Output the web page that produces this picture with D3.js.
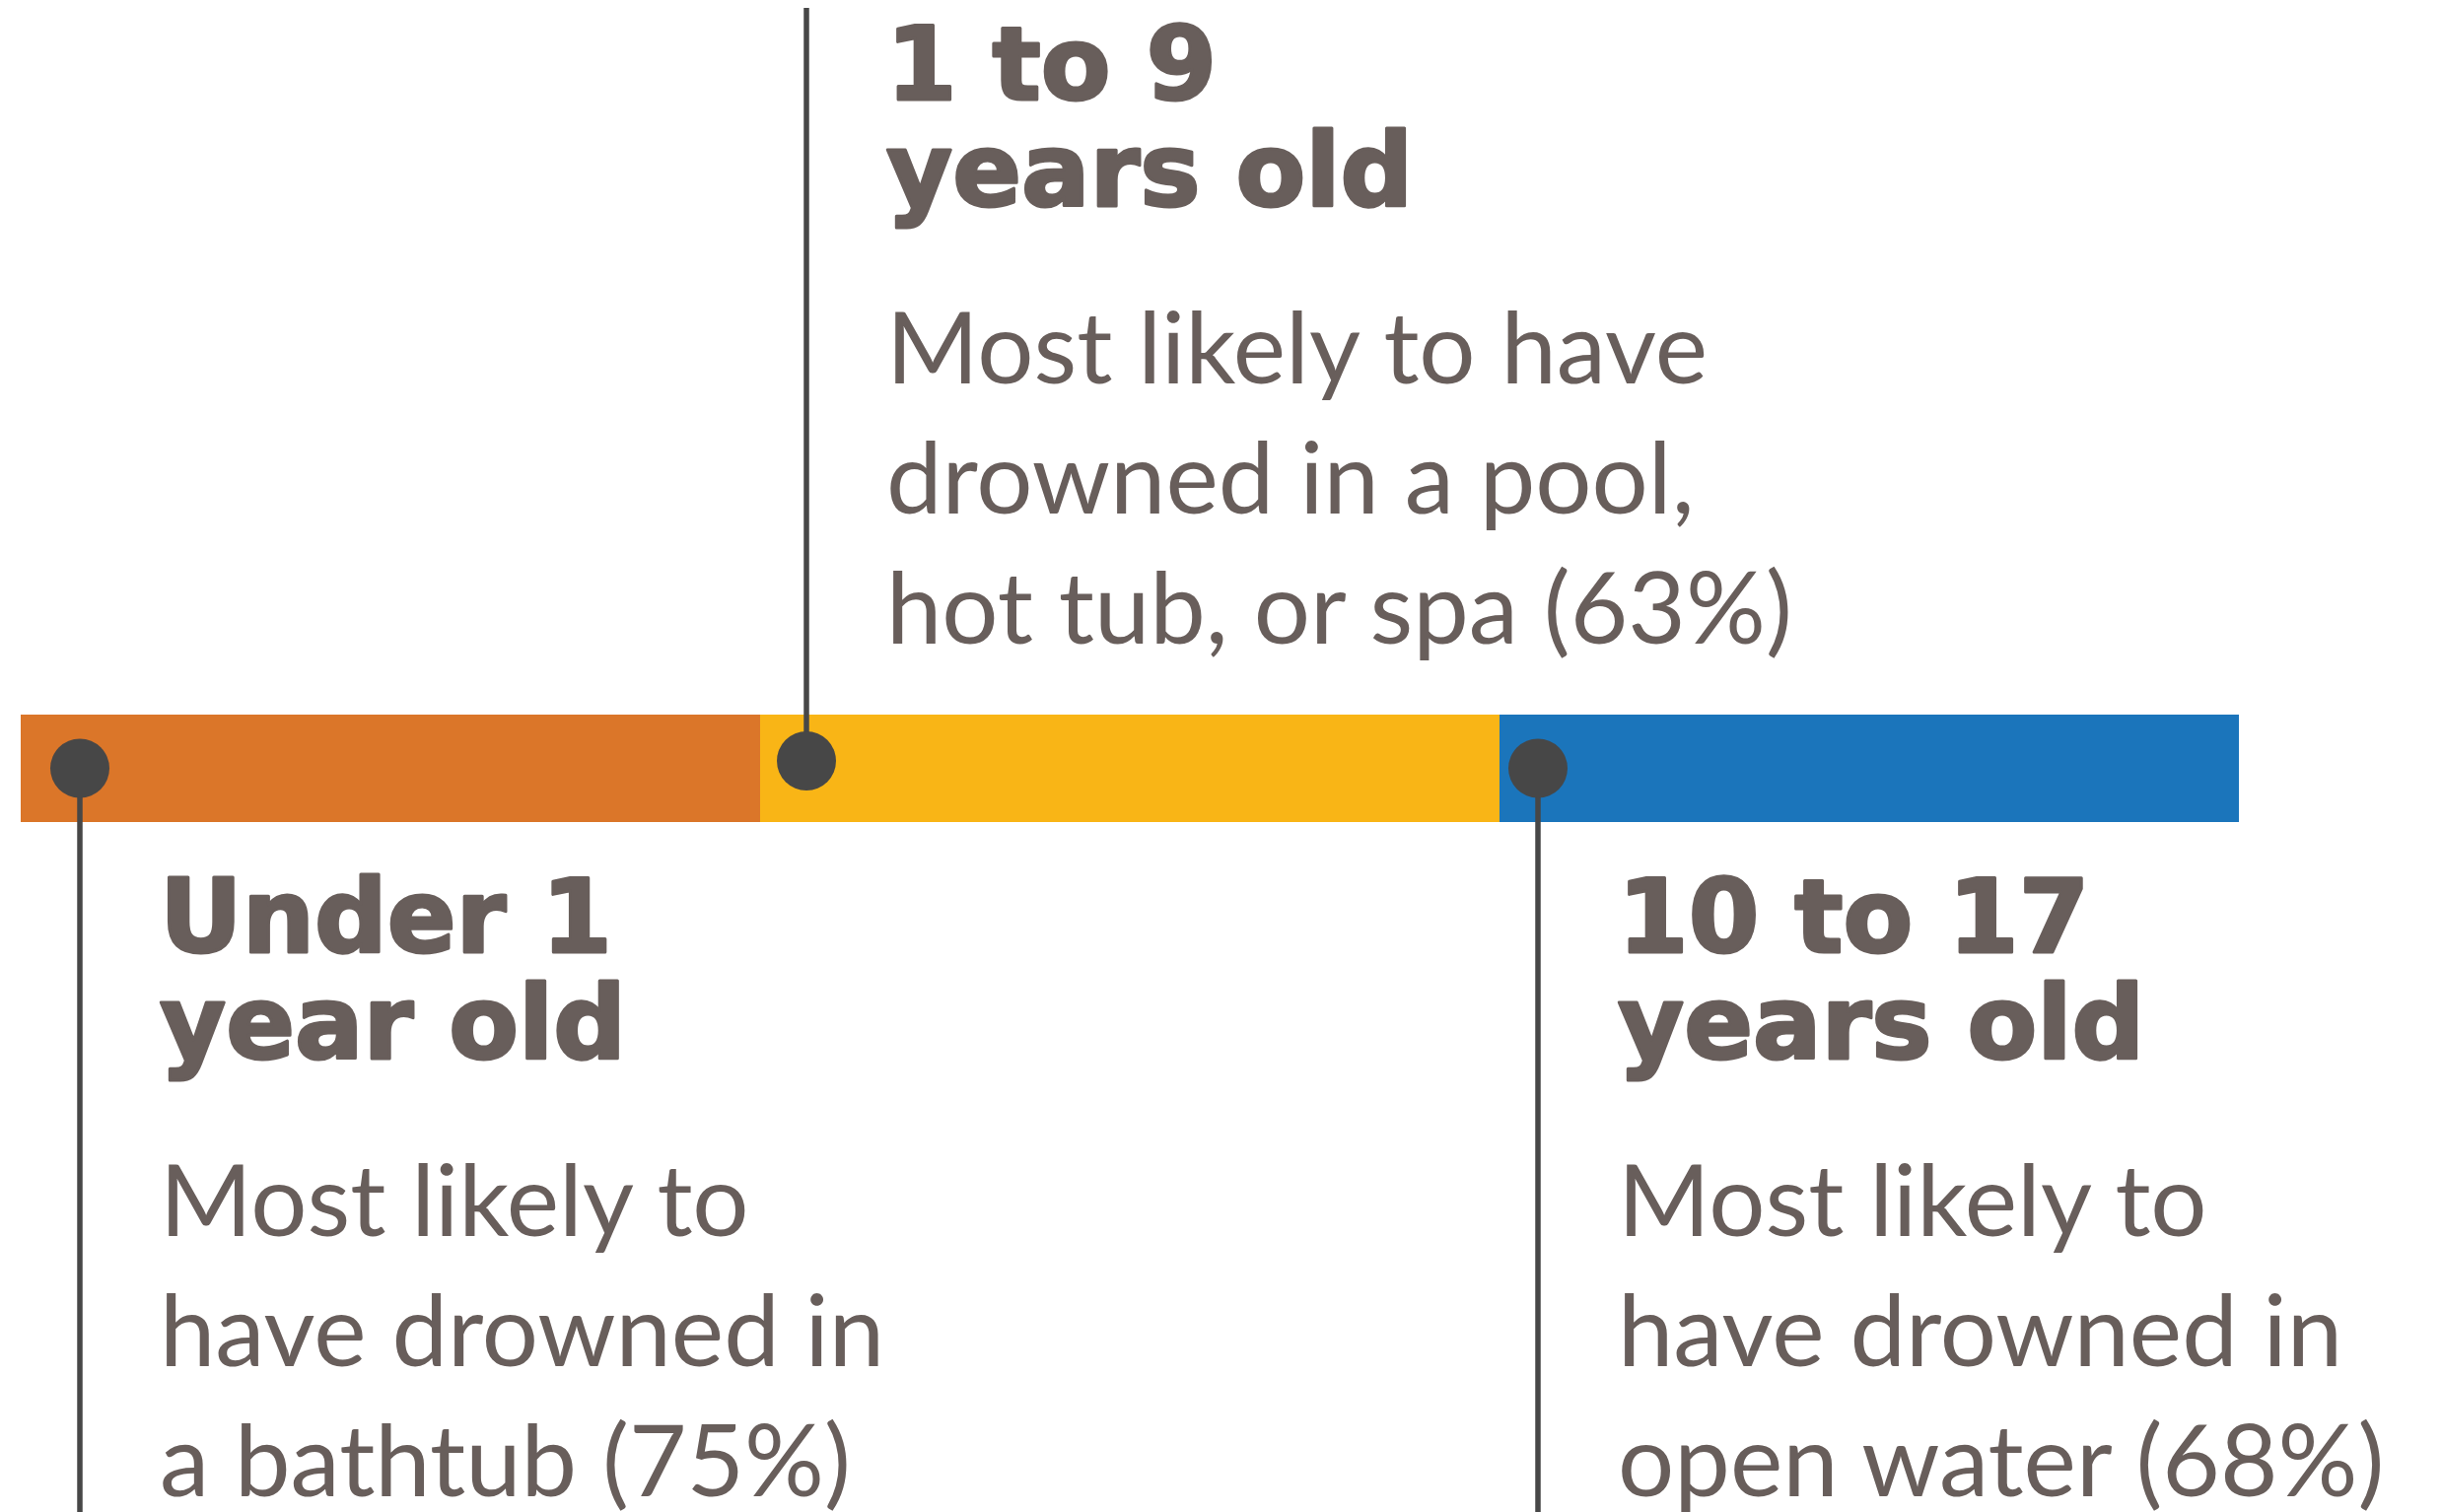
<!DOCTYPE html>
<html lang="en">
<head>
<meta charset="utf-8">
<title>Drowning by age</title>
<script src="https://d3js.org/d3.v7.min.js"></script>
<style>
body{
  margin: 0;
  background: #ffffff;
}
.head{
  font-family: "DejaVu Sans", sans-serif;
  font-weight: bold;
  font-size: 103px;
  fill: #685e5b;
  stroke: #685e5b;
  stroke-width: 3px;
  stroke-linejoin: round;
}
.body{
  font-family: Lato, sans-serif;
  font-weight: 400;
  font-size: 101px;
  fill: #685e5b;
}
</style>
</head>
<body>
<div id="chart"></div>
<script>
// age groups, left to right along the bar
var groups = ["Under 1", "1 to 9", "10 to 17"];
var headings = [["Under 1", "year old"], ["1 to 9", "years old"], ["10 to 17", "years old"]];
var places = [
  ["Most likely to", "have drowned in", "a bathtub"],
  ["Most likely to have", "drowned in a pool,", "hot tub, or spa"],
  ["Most likely to", "have drowned in", "open water"]
];
var shares = [75, 63, 68];
var sides = ["below", "above", "below"];
var colors = ["#db7629", "#f9b516", "#1b75bb"];

var W = 2477, H = 1534;
var svg = d3.select("#chart").append("svg")
  .attr("width", W)
  .attr("height", H);

// bar spans the width, three equal pieces
var x = d3.scaleBand().domain(groups).range([21, 2271]).padding(0);
var barTop = 725, barH = 109;

svg.selectAll(".seg")
  .data(groups)
  .enter()
  .append("rect")
  .attr("class", "seg")
  .attr("x", function(d) { return x(d); })
  .attr("y", barTop)
  .attr("width", x.bandwidth())
  .attr("height", barH)
  .attr("fill", function(d, i) { return colors[i]; });

// where the pin sits inside each piece (layout only)
var pinDx = [60, 47, 39];
function pinX(i) { return x(groups[i]) + pinDx[i]; }
function pinY(i) { return sides[i] == "above" ? barTop + 47 : barTop + barH / 2; }

var pins = svg.selectAll(".pin")
  .data(groups)
  .enter()
  .append("g")
  .attr("class", "pin");

pins.append("line")
  .attr("x1", function(d, i) { return pinX(i); })
  .attr("x2", function(d, i) { return pinX(i); })
  .attr("y1", function(d, i) { return pinY(i); })
  .attr("y2", function(d, i) { return sides[i] == "above" ? 8 : H; })
  .attr("stroke", "#474747")
  .attr("stroke-width", 5.5);

pins.append("circle")
  .attr("cx", function(d, i) { return pinX(i); })
  .attr("cy", function(d, i) { return pinY(i); })
  .attr("r", 30)
  .attr("fill", "#474747");

// text blocks next to each pin
var headTop = {above: 100.7, below: 965.6};
var bodyTop = {above: 388.7, below: 1253.6};

groups.forEach(function(g, i) {
  var tx = pinX(i) + 81;
  var side = sides[i];
  var blk = svg.append("g");

  blk.selectAll(".head")
    .data(headings[i])
    .enter()
    .append("text")
    .attr("class", "head")
    .attr("x", tx)
    .attr("y", function(d, j) { return headTop[side] + j * 108; })
    .text(function(d) { return d; });

  var lines = places[i].slice();
  lines[lines.length - 1] = lines[lines.length - 1] + " (" + shares[i] + "%)";

  blk.selectAll(".body")
    .data(lines)
    .enter()
    .append("text")
    .attr("class", "body")
    .attr("x", tx)
    .attr("y", function(d, j) { return bodyTop[side] + j * 132; })
    .text(function(d) { return d; });
});
</script>
</body>
</html>
